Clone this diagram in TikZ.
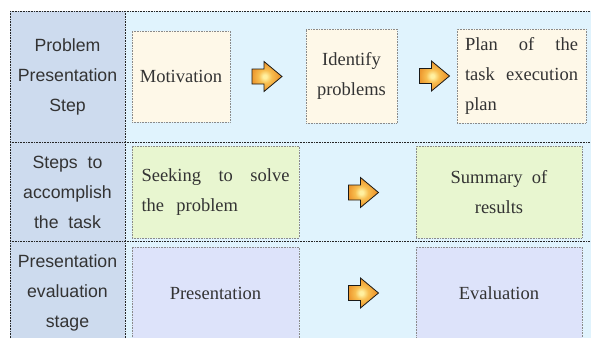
\documentclass[tikz,border=0pt]{standalone}
\usepackage{fontspec}
\setmainfont{Liberation Serif}
\setsansfont{Liberation Sans}
\definecolor{leftcol}{HTML}{CDDBEE}
\definecolor{rightbg}{HTML}{E0F3FD}
\definecolor{cream}{HTML}{FEF8E8}
\definecolor{green1}{HTML}{E8F6D0}
\definecolor{lav}{HTML}{DDE3FA}
\definecolor{boxline}{HTML}{8A8A8A}
\definecolor{arrin}{HTML}{FFF0A0}
\definecolor{arrmid}{HTML}{F8BE50}
\definecolor{arrout}{HTML}{EE9A30}
\definecolor{arrdark}{HTML}{E08A25}
\pgfdeclareradialshading{arrsh}{\pgfpoint{-4bp}{0bp}}{%
  color(0bp)=(arrin); color(3bp)=(arrin); color(11bp)=(arrmid); color(22bp)=(arrout); color(40bp)=(arrdark); color(60bp)=(arrdark)}
\tikzset{
  gridline/.style={black!85, line width=0.6pt, densely dotted},
  box/.style={draw=boxline, line width=0.6pt, densely dotted, inner sep=0pt, font=\fontsize{18.5}{30}\selectfont, text=black!80},
  lefttxt/.style={font=\sffamily\fontsize{17.7}{30}\selectfont, align=center, text=black!80, inner sep=0pt},
  pics/orarrow/.style={code={
    \path[draw=black!90, line width=0.8pt, line join=miter, shading=arrsh]
      (-15,-7.5) -- (-3,-7.5) -- (-3,-15) -- (15,0) -- (-3,15) -- (-3,7.5) -- (-15,7.5) -- cycle;
  }}
}
\begin{document}
\begin{tikzpicture}[x=1pt,y=-1pt]
\useasboundingbox (0,0) rectangle (591,337);
% backgrounds
\fill[white] (0,0) rectangle (591,337);
\fill[leftcol] (10,11) rectangle (125,345);
\fill[rightbg] (125,11) rectangle (595,345);
% grid
\draw[gridline] (10,11) -- (595,11);
\draw[gridline] (10,11) -- (10,345);
\draw[gridline] (125,11) -- (125,345);
\draw[gridline] (10,142) -- (595,142);
\draw[gridline] (10,241) -- (595,241);
% left labels
\node[lefttxt] (l1) at (67.5,77) {Problem\\Presentation\\Step};
\node[lefttxt] (l2) at (67.5,192) {Steps\ \ to\\accomplish\\the\ \ task};
\node[lefttxt] (l3) at (67.5,293) {Presentation\\evaluation\\stage};
% boxes
\node[box, fill=cream, minimum width=98pt, minimum height=91pt, align=center] (mot) at (181,76.5) {Motivation};
\node[box, fill=cream, minimum width=91pt, minimum height=94pt, align=center] (ide) at (351.5,76) {Identify\\problems};
\node[box, fill=cream, minimum width=129pt, minimum height=94pt] (plan) at (521.5,76) {};
\node[box, draw=none, text width=113pt, align=left] (plantxt) at (plan.center) {Plan\hfill of\hfill the\\task\hfill execution\\plan};
\node[box, fill=green1, minimum width=167pt, minimum height=92pt] (seek) at (215.5,192) {};
\node[box, draw=none, text width=148pt, align=left] (seektxt) at (seek.center) {Seeking\hfill to\hfill solve\\the\ \ problem};
\node[box, fill=green1, minimum width=166pt, minimum height=92pt, align=center] (summ) at (499,192) {Summary\ \ of\\results};
\node[box, fill=lav, minimum width=167pt, minimum height=92pt, align=center] (pres) at (215.5,293) {Presentation};
\node[box, fill=lav, minimum width=166pt, minimum height=92pt, align=center] (eval) at (499,293) {Evaluation};
% arrows
\pic (a1) at (267,76.5) {orarrow};
\pic (a2) at (434.5,76) {orarrow};
\pic (a3) at (363.5,192.5) {orarrow};
\pic (a4) at (363.5,293) {orarrow};
\end{tikzpicture}
\end{document}
